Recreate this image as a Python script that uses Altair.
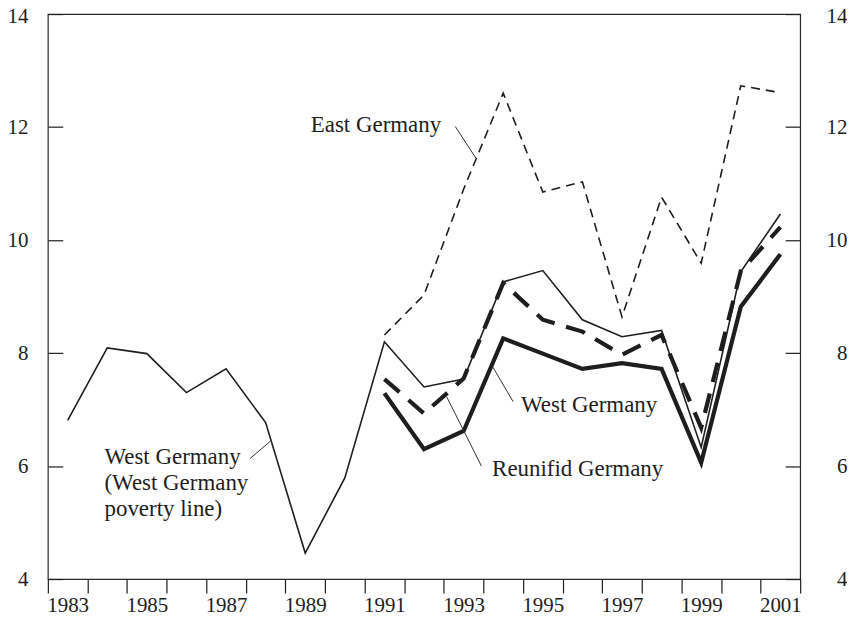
import altair as alt
import pandas as pd

# ---- data ----
years_all = list(range(1983, 2002))
years_91 = list(range(1991, 2002))

west_wg_line = [6.81, 8.09, 7.99, 7.30, 7.72, 6.77, 4.46, 5.79, 8.20, 7.40,
                7.54, 9.26, 9.46, 8.59, 8.29, 8.40, 6.33, 9.44, 10.46]
east = [8.32, 9.03, 10.90, 12.60, 10.85, 11.03, 8.64, 10.76, 9.59, 12.73, 12.61]
west = [7.29, 6.30, 6.62, 8.26, 7.99, 7.72, 7.82, 7.72, 6.06, 8.82, 9.75]
reunified = [7.54, 6.93, 7.55, 9.24, 8.59, 8.38, 7.97, 8.32, 6.68, 9.45, 10.23]

x_tick_values = [y + 0.5 for y in range(1982, 2002)]
x_label_years = list(range(1983, 2002, 2))
y_ticks = [4, 6, 8, 10, 12, 14]

label_text = ["East Germany", "West Germany", "(West Germany", "poverty line)",
              "West Germany", "Reunifid Germany"]
label_x = [1989.14, 1983.93, 1983.93, 1983.93, 1994.45, 1993.72]
label_y = [11.92, 6.03, 5.57, 5.11, 6.96, 5.82]

leader_x1 = [1992.79, 1987.60, 1993.74, 1992.57]
leader_y1 = [12.01, 6.13, 7.75, 7.23]
leader_x2 = [1993.31, 1988.12, 1994.25, 1993.45]
leader_y2 = [11.45, 6.44, 7.14, 6.00]

# ---- tables ----
df_wg = pd.DataFrame({"year": years_all, "value": west_wg_line})
df_east = pd.DataFrame({"year": years_91, "value": east})
df_west = pd.DataFrame({"year": years_91, "value": west})
df_reun = pd.DataFrame({"year": years_91, "value": reunified})
df_lab = pd.DataFrame({"x": label_x, "y": label_y, "t": label_text})
df_lead = pd.DataFrame({"x": leader_x1, "y": leader_y1, "x2": leader_x2, "y2": leader_y2})

FONT = "Liberation Serif"
INK = "#1e1e1e"

x_scale = alt.Scale(domain=[1982.5, 2001.5], nice=False, zero=False)
y_scale = alt.Scale(domain=[4, 14], nice=False, zero=False)

# axis carrying the year labels (no ticks)
x_axis_labels = alt.Axis(
    orient="bottom", values=x_label_years, format="d",
    ticks=False, domain=False, grid=False, title=None,
    labelFont=FONT, labelFontSize=21, labelColor=INK,
    labelPadding=16, labelOverlap=False, labelFlush=False,
)
# axis carrying the ticks between years (no labels)
x_axis_ticks = alt.Axis(
    orient="bottom", values=x_tick_values,
    labels=False, domain=False, grid=False, title=None,
    tickSize=14, tickWidth=1.2, tickColor=INK,
)

top_label_nudge = {"condition": {"test": "datum.value == 14", "value": 2}, "value": 0}

y_axis_left = alt.Axis(
    orient="left", values=y_ticks, format="d", offset=-15,
    tickSize=15, tickWidth=1.2, tickColor=INK,
    domain=False, grid=False, title=None,
    labelFont=FONT, labelFontSize=21, labelColor=INK, labelPadding=20,
    labelOffset=top_label_nudge,
)
y_axis_right = alt.Axis(
    orient="right", values=y_ticks, format="d", offset=-15,
    tickSize=15, tickWidth=1.2, tickColor=INK,
    domain=False, grid=False, title=None,
    labelFont=FONT, labelFontSize=21, labelColor=INK, labelPadding=47,
    labelAlign="right", labelOffset=top_label_nudge,
)

wg_layer = alt.Chart(df_wg).mark_line(color=INK, strokeWidth=1.6).encode(
    x=alt.X("year:Q", scale=x_scale, axis=x_axis_labels),
    y=alt.Y("value:Q", scale=y_scale, axis=y_axis_left),
)
east_layer = alt.Chart(df_east).mark_line(color=INK, strokeWidth=1.6, strokeDash=[9, 6]).encode(
    x=alt.X("year:Q", scale=x_scale, axis=x_axis_ticks),
    y=alt.Y("value:Q", scale=y_scale, axis=y_axis_right),
)
west_layer = alt.Chart(df_west).mark_line(color=INK, strokeWidth=4.2).encode(
    x=alt.X("year:Q", scale=x_scale, axis=None),
    y=alt.Y("value:Q", scale=y_scale, axis=None),
)
reun_layer = alt.Chart(df_reun).mark_line(color=INK, strokeWidth=4.2, strokeDash=[20, 12]).encode(
    x=alt.X("year:Q", scale=x_scale, axis=None),
    y=alt.Y("value:Q", scale=y_scale, axis=None),
)
lead_layer = alt.Chart(df_lead).mark_rule(color="#333333", strokeWidth=1).encode(
    x=alt.X("x:Q", scale=x_scale, axis=None),
    y=alt.Y("y:Q", scale=y_scale, axis=None),
    x2="x2:Q",
    y2="y2:Q",
)
text_layer = alt.Chart(df_lab).mark_text(
    font=FONT, fontSize=23, color=INK, align="left", baseline="alphabetic"
).encode(
    x=alt.X("x:Q", scale=x_scale, axis=None),
    y=alt.Y("y:Q", scale=y_scale, axis=None),
    text="t:N",
)

chart = (
    alt.layer(wg_layer, east_layer, west_layer, reun_layer, lead_layer, text_layer)
    .resolve_scale(y="shared", x="shared")
    .resolve_axis(y="independent", x="independent")
    .properties(
        width=755, height=567,
        padding={"left": 40, "top": 5, "right": 47, "bottom": 40},
        autosize=alt.AutoSizeParams(type="none"),
        background="white",
    )
    .configure_view(stroke="#2a2a2a", strokeWidth=1.2)
)

chart.save("out.html", embed_options={"renderer": "svg", "actions": False})
